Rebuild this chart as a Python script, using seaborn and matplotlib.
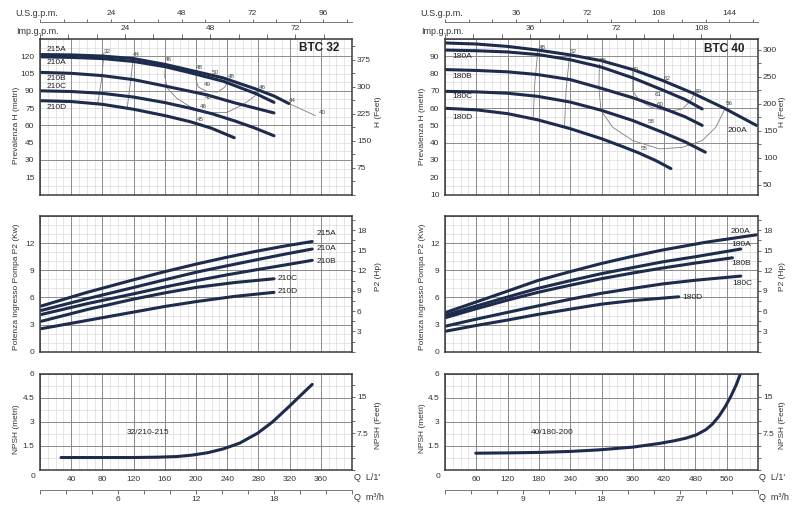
import numpy as np
import pandas as pd
import matplotlib
matplotlib.use("Agg")
import matplotlib.pyplot as plt
from matplotlib.ticker import MultipleLocator
import seaborn as sns

# ---------------- DATA ----------------
# BTC 32 head curves: Q (L/min) -> H (m)
q32_215A = [2, 40, 80, 120, 160, 192, 235, 277, 300, 319]
h32_215A = [121.5, 121.2, 120.2, 118, 113, 108, 101.2, 91.5, 85.5, 79]
q32_210A = [2, 40, 80, 120, 160, 192, 235, 277, 300]
h32_210A = [119.5, 119, 118, 115.5, 111, 105.8, 98.3, 87.5, 80]
q32_210B = [2, 40, 80, 120, 160, 200, 214, 250, 300]
h32_210B = [106, 105.2, 103.2, 99.7, 94.2, 88.5, 86.5, 79.5, 70.8]
q32_210C = [2, 40, 80, 120, 160, 192, 220, 250, 275, 300]
h32_210C = [90, 89.4, 87.8, 84.6, 79.8, 75, 70.2, 63.8, 57.8, 51]
q32_210D = [2, 40, 80, 120, 160, 192, 220, 249]
h32_210D = [81.4, 80.7, 78.3, 74, 68.5, 63.3, 57.5, 49.3]
q32_tail = [319, 353]
h32_tail = [79, 68.5]

# BTC 32 iso-efficiency lines
q32_e32 = [82, 79, 74]
h32_e32 = [123, 100, 79]
q32_e44 = [120, 116, 112]
h32_e44 = [120, 98, 76]
q32_e46 = [161, 160, 163, 175, 192, 214, 239, 260, 275, 283]
h32_e46 = [115.7, 102.6, 92.5, 83.7, 76.4, 71.1, 71.1, 77.9, 85.1, 91.6]
q32_e48 = [201, 200, 203, 214, 228, 237, 243]
h32_e48 = [108.5, 99.7, 93.3, 89.5, 89, 93.3, 101.2]
eff32_txt = ["32", "44", "46", "48", "50", "48", "49", "48", "46", "45", "46", "44", "40"]
eff32_q = [86, 124, 165, 204, 224, 245, 214, 216, 209, 205, 285, 324, 362]
eff32_h = [124.5, 121.5, 117, 110.5, 106, 102.5, 95.4, 84.3, 76.4, 64.7, 92.5, 82, 71]

# BTC 40 head curves
q40_200A = [0, 60, 120, 178, 240, 299, 360, 417, 474, 535, 597]
h40_200A = [97.7, 97.1, 95.7, 93.6, 90.8, 87.5, 82.3, 76, 68.8, 60, 50]
q40_180A = [0, 60, 120, 178, 240, 299, 360, 417, 460, 493]
h40_180A = [93.6, 93.2, 92.5, 91, 88, 83.8, 77.5, 70.5, 65, 59.5]
q40_180B = [0, 60, 120, 178, 240, 299, 360, 417, 460, 493]
h40_180B = [82.3, 81.8, 81, 79.4, 76.5, 71.5, 66, 60, 55, 50]
q40_180C = [0, 60, 120, 178, 240, 299, 360, 417, 460, 499]
h40_180C = [69.7, 69.4, 68.6, 66.8, 63.5, 58.8, 52.8, 46, 40.5, 34.5]
q40_180D = [0, 60, 120, 178, 239, 299, 340, 372, 405, 433]
h40_180D = [59.9, 59, 56.8, 53.2, 48.2, 42.4, 37.8, 34, 29.5, 25]

# BTC 40 iso-efficiency lines
q40_e48 = [178, 172, 169]
h40_e48 = [93.6, 74, 53.8]
q40_e52 = [239, 232, 229]
h40_e52 = [91.3, 70, 48.9]
q40_e56 = [296, 295, 299, 321.5, 360, 411, 455, 493, 519, 535]
h40_e56 = [85.5, 72, 58.6, 48.9, 41.2, 36.4, 37.3, 41.2, 48.9, 58.6]
q40_e60 = [360, 360, 372.5, 398, 430, 455, 471, 477.6]
h40_e60 = [81.7, 70, 64.3, 60.1, 58.2, 59.5, 64.3, 68.2]
eff40_txt = ["48", "52", "56", "60", "62", "61", "60", "58", "55", "60", "56"]
eff40_q = [187, 246, 304, 365, 425, 409, 412, 396, 381, 486, 545]
eff40_h = [95, 92.5, 87.5, 82.5, 77.4, 67.8, 62, 52.4, 36.4, 69.5, 62.4]

# Power P2 (kW)
qp32_215A = [2, 60, 120, 160, 201, 240, 277, 315, 349]
p32_215A = [5.06, 6.55, 7.95, 8.85, 9.7, 10.45, 11.1, 11.7, 12.18]
qp32_210A = [2, 60, 120, 160, 201, 240, 277, 315, 349]
p32_210A = [4.57, 5.85, 7.1, 7.95, 8.8, 9.5, 10.15, 10.8, 11.35]
qp32_210B = [2, 60, 120, 160, 201, 240, 277, 315, 349]
p32_210B = [4.12, 5.3, 6.4, 7.15, 7.87, 8.5, 9.05, 9.6, 10.1]
qp32_210C = [2, 60, 120, 160, 201, 250, 300]
p32_210C = [3.37, 4.65, 5.81, 6.5, 7.12, 7.65, 8.06]
qp32_210D = [2, 60, 120, 160, 201, 250, 300]
p32_210D = [2.55, 3.45, 4.38, 5.0, 5.55, 6.12, 6.56]

qp40_200A = [0, 60, 120, 178, 240, 299, 360, 417, 500, 597]
p40_200A = [4.31, 5.5, 6.7, 7.87, 8.85, 9.74, 10.55, 11.24, 12.1, 12.92]
qp40_180A = [0, 60, 120, 178, 240, 299, 360, 417, 480, 567]
p40_180A = [4.01, 5.05, 6.05, 7.0, 7.85, 8.62, 9.3, 9.93, 10.5, 11.35]
qp40_180B = [0, 60, 120, 178, 240, 299, 360, 417, 480, 551]
p40_180B = [3.75, 4.75, 5.7, 6.56, 7.35, 8.06, 8.7, 9.25, 9.8, 10.38]
qp40_180C = [0, 60, 120, 178, 240, 299, 360, 417, 480, 567]
p40_180C = [2.81, 3.6, 4.35, 5.06, 5.8, 6.45, 7.0, 7.49, 7.9, 8.36]
qp40_180D = [0, 60, 120, 178, 240, 299, 360, 448]
p40_180D = [2.25, 2.9, 3.5, 4.12, 4.7, 5.25, 5.65, 6.07]

# NPSH (m)
qn32 = [27, 80, 120, 150, 175, 195, 215, 235, 256, 279, 298, 319, 336, 349]
n32 = [0.78, 0.78, 0.78, 0.8, 0.84, 0.93, 1.08, 1.32, 1.68, 2.3, 3.0, 3.95, 4.75, 5.35]
qn40 = [59, 120, 181, 240, 296, 360, 411, 440, 462, 482, 500, 512, 525, 537, 548, 558, 567]
n40 = [1.05, 1.07, 1.1, 1.16, 1.26, 1.43, 1.66, 1.83, 1.99, 2.2, 2.52, 2.85, 3.35, 3.95, 4.61, 5.3, 6.08]

# tick labels
xt32 = [40, 80, 120, 160, 200, 240, 280, 320, 360]
xt40 = [60, 120, 180, 240, 300, 360, 420, 480, 540]
xt40_lbl = ["60", "120", "180", "240", "300", "360", "420", "480", "560"]

# ---------------- STYLE ----------------
sns.set_style("white")
plt.rcParams['font.family'] = ['Liberation Sans', 'DejaVu Sans']

NAVY = "#1d2c4c"
GMIN = "#dcdcdc"
GMAJ = "#8c8c8c"
EFFC = "#7f7f7f"
TXT = "#333333"
FS = 6

fig = plt.figure(figsize=(8, 5.08), dpi=100)
W, H = 800.0, 508.0


def box(x0, y0, x1, y1):
    return [x0 / W, 1 - y1 / H, (x1 - x0) / W, (y1 - y0) / H]


axTL = fig.add_axes(box(40, 39, 352, 194.5))
axTR = fig.add_axes(box(445, 39, 758, 194.5))
axML = fig.add_axes(box(40, 216, 352, 351.7))
axMR = fig.add_axes(box(445, 216, 758, 351.7))
axBL = fig.add_axes(box(40, 374, 352, 470))
axBR = fig.add_axes(box(445, 374, 758, 470))


def curve(ax, q, v, lw=2.2, color=NAVY, z=3):
    df = pd.DataFrame({"q": q, "v": v})
    sns.lineplot(data=df, x="q", y="v", ax=ax, color=color, lw=lw, sort=False,
                 estimator=None, legend=False, zorder=z, solid_capstyle="round",
                 solid_joinstyle="round")


def grid(ax, xlim, ylim, xs_min, xs_maj, ys_min, ys_maj):
    for x in np.arange(xlim[0], xlim[1] + 1e-6, xs_min):
        ax.axvline(x, color=GMIN, lw=0.5, zorder=0)
    for y in np.arange(ylim[0], ylim[1] + 1e-6, ys_min):
        ax.axhline(y, color=GMIN, lw=0.5, zorder=0)
    for x in np.arange(xlim[0], xlim[1] + 1e-6, xs_maj):
        ax.axvline(x, color=GMAJ, lw=0.7, zorder=1)
    for y in np.arange(ylim[0], ylim[1] + 1e-6, ys_maj):
        ax.axhline(y, color=GMAJ, lw=0.7, zorder=1)


def base(ax, xlim, ylim, yticks, ylabels=None):
    ax.set_xlim(*xlim)
    ax.set_ylim(*ylim)
    ax.set_xlabel("")
    ax.set_ylabel("")
    if ylabels is None:
        ax.set_yticks(yticks)
    else:
        ax.set_yticks(yticks, labels=ylabels)
    ax.tick_params(axis='y', which='both', direction='out', length=2.5, width=0.6,
                   color="#555555", labelcolor=TXT, labelsize=FS, pad=1.5)
    for s in ax.spines.values():
        s.set_color("#3a3a3a")
        s.set_linewidth(1.1)
        s.set_zorder(5)


def right_axis(ax, f, ticks, minor, labels=None):
    sec = ax.secondary_yaxis('right', functions=(lambda m: m * f, lambda v: v / f))
    if labels is None:
        sec.set_yticks(ticks)
    else:
        sec.set_yticks(ticks, labels=labels)
    sec.yaxis.set_minor_locator(MultipleLocator(minor))
    sec.tick_params(which='both', direction='out', length=2.5, width=0.6,
                    color="#555555", labelcolor=TXT, labelsize=FS, pad=1)
    sec.spines['right'].set_visible(False)
    return sec


def top_axes(ax, us_t, us_m, imp_t, imp_m):
    imp = ax.secondary_xaxis('top', functions=(lambda q: q / 4.546, lambda g: g * 4.546))
    imp.set_xticks(imp_t)
    imp.xaxis.set_minor_locator(MultipleLocator(imp_m))
    imp.tick_params(which='both', direction='out', length=3.5, width=0.6,
                    color="#555555", labelcolor=TXT, labelsize=FS, pad=1.5)
    imp.spines['top'].set_visible(False)
    us = ax.secondary_xaxis(1.111, functions=(lambda q: q / 3.785, lambda g: g * 3.785))
    us.set_xticks(us_t)
    us.xaxis.set_minor_locator(MultipleLocator(us_m))
    us.tick_params(which='both', direction='out', length=2.5, width=0.6,
                   color="#555555", labelcolor=TXT, labelsize=FS, pad=1)
    us.spines['top'].set_color("#777777")
    us.spines['top'].set_linewidth(0.7)


def bottom_axes(ax, xt, xl, m_t, m_m):
    ax.set_xticks(xt, labels=xl)
    ax.tick_params(axis='x', length=0, labelsize=FS, labelcolor=TXT, pad=4)
    m3 = ax.secondary_xaxis(-0.208, functions=(lambda q: q * 0.06, lambda v: v / 0.06))
    m3.set_xticks(m_t)
    m3.xaxis.set_minor_locator(MultipleLocator(m_m))
    m3.tick_params(which='both', direction='out', length=3, width=0.6,
                   color="#555555", labelcolor=TXT, labelsize=FS, pad=1.5)
    m3.spines['bottom'].set_color("#777777")
    m3.spines['bottom'].set_linewidth(0.7)


def labels(ax, items, fs=FS, ha='left'):
    for t, x, y in items:
        ax.text(x, y, t, fontsize=fs, color="#222222", ha=ha, va='center', zorder=6)


# ---------------- TOP LEFT (BTC 32 head) ----------------
ax = axTL
grid(ax, (0, 400), (0, 135), 10, 40, 7.5, 30)
for q, h in [(q32_e32, h32_e32), (q32_e44, h32_e44), (q32_e46, h32_e46), (q32_e48, h32_e48), (q32_tail, h32_tail)]:
    curve(ax, q, h, lw=0.6, color=EFFC, z=2)
for q, h in [(q32_210D, h32_210D), (q32_210C, h32_210C), (q32_210B, h32_210B), (q32_210A, h32_210A), (q32_215A, h32_215A)]:
    curve(ax, q, h)
for t, x, y in zip(eff32_txt, eff32_q, eff32_h):
    ax.text(x, y, t, fontsize=4.5, color="#444444", ha='center', va='center', zorder=6)
labels(ax, [("215A", 8, 126), ("210A", 8, 114.6), ("210B", 8, 100.6), ("210C", 8, 93.6), ("210D", 8, 75.2)])
ax.text(358, 127.5, "BTC 32", fontsize=8.5, fontweight='bold', color="#222222", ha='center', va='center', zorder=6)
base(ax, (0, 400), (0, 135), np.arange(15, 121, 15))
ax.set_xticks([])
right_axis(ax, 3.2, [75, 150, 225, 300, 375], 37.5)
top_axes(ax, [24, 48, 72, 96], 8, [24, 48, 72], 8)

# ---------------- TOP RIGHT (BTC 40 head) ----------------
ax = axTR
grid(ax, (0, 600), (10, 100), 15, 60, 5, 30)
ax.axhline(90, color=GMAJ, lw=0.7, zorder=1)
ax.axhline(60, color=GMAJ, lw=0.7, zorder=1)
for q, h in [(q40_e48, h40_e48), (q40_e52, h40_e52), (q40_e56, h40_e56), (q40_e60, h40_e60)]:
    curve(ax, q, h, lw=0.6, color=EFFC, z=2)
for q, h in [(q40_180D, h40_180D), (q40_180C, h40_180C), (q40_180B, h40_180B), (q40_180A, h40_180A), (q40_200A, h40_200A)]:
    curve(ax, q, h)
for t, x, y in zip(eff40_txt, eff40_q, eff40_h):
    ax.text(x, y, t, fontsize=4.5, color="#444444", ha='center', va='center', zorder=6)
labels(ax, [("180A", 15, 89.8), ("180B", 15, 78.2), ("180C", 15, 66.6), ("180D", 15, 54.7), ("200A", 541, 47)])
ax.text(536, 94.4, "BTC 40", fontsize=8.5, fontweight='bold', color="#222222", ha='center', va='center', zorder=6)
base(ax, (0, 600), (10, 100), np.arange(10, 91, 10))
ax.set_xticks([])
right_axis(ax, 3.2, [50, 100, 150, 200, 250, 300], 25)
top_axes(ax, [36, 72, 108, 144], 12, [36, 72, 108], 12)

# ---------------- MIDDLE LEFT (power) ----------------
ax = axML
grid(ax, (0, 400), (0, 15), 10, 40, 1, 3)
for q, p in [(qp32_210D, p32_210D), (qp32_210C, p32_210C), (qp32_210B, p32_210B), (qp32_210A, p32_210A), (qp32_215A, p32_215A)]:
    curve(ax, q, p)
labels(ax, [("215A", 354, 13.1), ("210A", 355, 11.4), ("210B", 354, 10.0), ("210C", 304, 8.06), ("210D", 304, 6.6)])
base(ax, (0, 400), (0, 15), [0, 3, 6, 9, 12])
ax.set_xticks([])
right_axis(ax, 1 / 0.7457, [3, 6, 9, 12, 15, 18], 1.5)

# ---------------- MIDDLE RIGHT (power) ----------------
ax = axMR
grid(ax, (0, 600), (0, 15), 15, 60, 1, 3)
for q, p in [(qp40_180D, p40_180D), (qp40_180C, p40_180C), (qp40_180B, p40_180B), (qp40_180A, p40_180A), (qp40_200A, p40_200A)]:
    curve(ax, q, p)
labels(ax, [("200A", 548, 13.3), ("180A", 548, 11.8), ("180B", 548, 9.74), ("180C", 551, 7.5), ("180D", 455, 6.0)])
base(ax, (0, 600), (0, 15), [0, 3, 6, 9, 12])
ax.set_xticks([])
right_axis(ax, 1 / 0.7457, [3, 6, 9, 12, 15, 18], 1.5)

# ---------------- BOTTOM LEFT (NPSH) ----------------
ax = axBL
grid(ax, (0, 400), (0, 6), 10, 40, 0.75, 1.5)
curve(ax, qn32, n32)
ax.text(139, 2.33, "32/210-215", fontsize=FS, color="#222222", ha='center', va='center', zorder=6)
base(ax, (0, 400), (0, 6), [1.5, 3, 4.5, 6], ["1.5", "3", "4.5", "6"])
right_axis(ax, 3.281, [7.5, 15], 2.5, ["7.5", "15"])
bottom_axes(ax, xt32, [str(v) for v in xt32], [6, 12, 18], 2)

# ---------------- BOTTOM RIGHT (NPSH) ----------------
ax = axBR
grid(ax, (0, 600), (0, 6), 15, 60, 0.75, 1.5)
curve(ax, qn40, n40)
ax.text(206, 2.35, "40/180-200", fontsize=FS, color="#222222", ha='center', va='center', zorder=6)
base(ax, (0, 600), (0, 6), [1.5, 3, 4.5, 6], ["1.5", "3", "4.5", "6"])
right_axis(ax, 3.281, [7.5, 15], 2.5, ["7.5", "15"])
bottom_axes(ax, xt40, xt40_lbl, [9, 18, 27], 3)

# ---------------- FIGURE TEXTS ----------------
def ftext(x, y, s, rot=0, ha='center', fs=FS):
    fig.text(x / W, 1 - y / H, s, rotation=rot, ha=ha, va='center', fontsize=fs, color=TXT)

for x0 in (0, 405):
    ftext(15 + x0, 14, "U.S.g.p.m.", ha='left', fs=6.5)
    ftext(16 + x0, 32, "Imp.g.p.m.", ha='left', fs=6.5)

ftext(17, 125, "Prevalenza H (metri)", rot=90)
ftext(422, 126, "Prevalenza H (metri)", rot=90)
ftext(378, 112, "H (Feet)", rot=90)
ftext(782, 112, "H (Feet)", rot=90)
ftext(17, 287, "Potenza ingresso Pompa P2 (Kw)", rot=90)
ftext(422, 287, "Potenza ingresso Pompa P2 (Kw)", rot=90)
ftext(378, 277, "P2 (Hp)", rot=90)
ftext(782, 277, "P2 (Hp)", rot=90)
ftext(17, 429, "NPSH (metri)", rot=90)
ftext(422, 428, "NPSH (metri)", rot=90)
ftext(378, 425, "NPSH (Feet)", rot=90)
ftext(782, 425, "NPSH (Feet)", rot=90)

ftext(33, 477, "0")
ftext(438, 477, "0")
ftext(354, 478, "Q  L/1'", ha='left', fs=6.5)
ftext(354, 498, "Q  m³/h", ha='left', fs=6.5)
ftext(759, 478, "Q  L/1'", ha='left', fs=6.5)
ftext(759, 498, "Q  m³/h", ha='left', fs=6.5)

fig.savefig("out.png", dpi=100)
